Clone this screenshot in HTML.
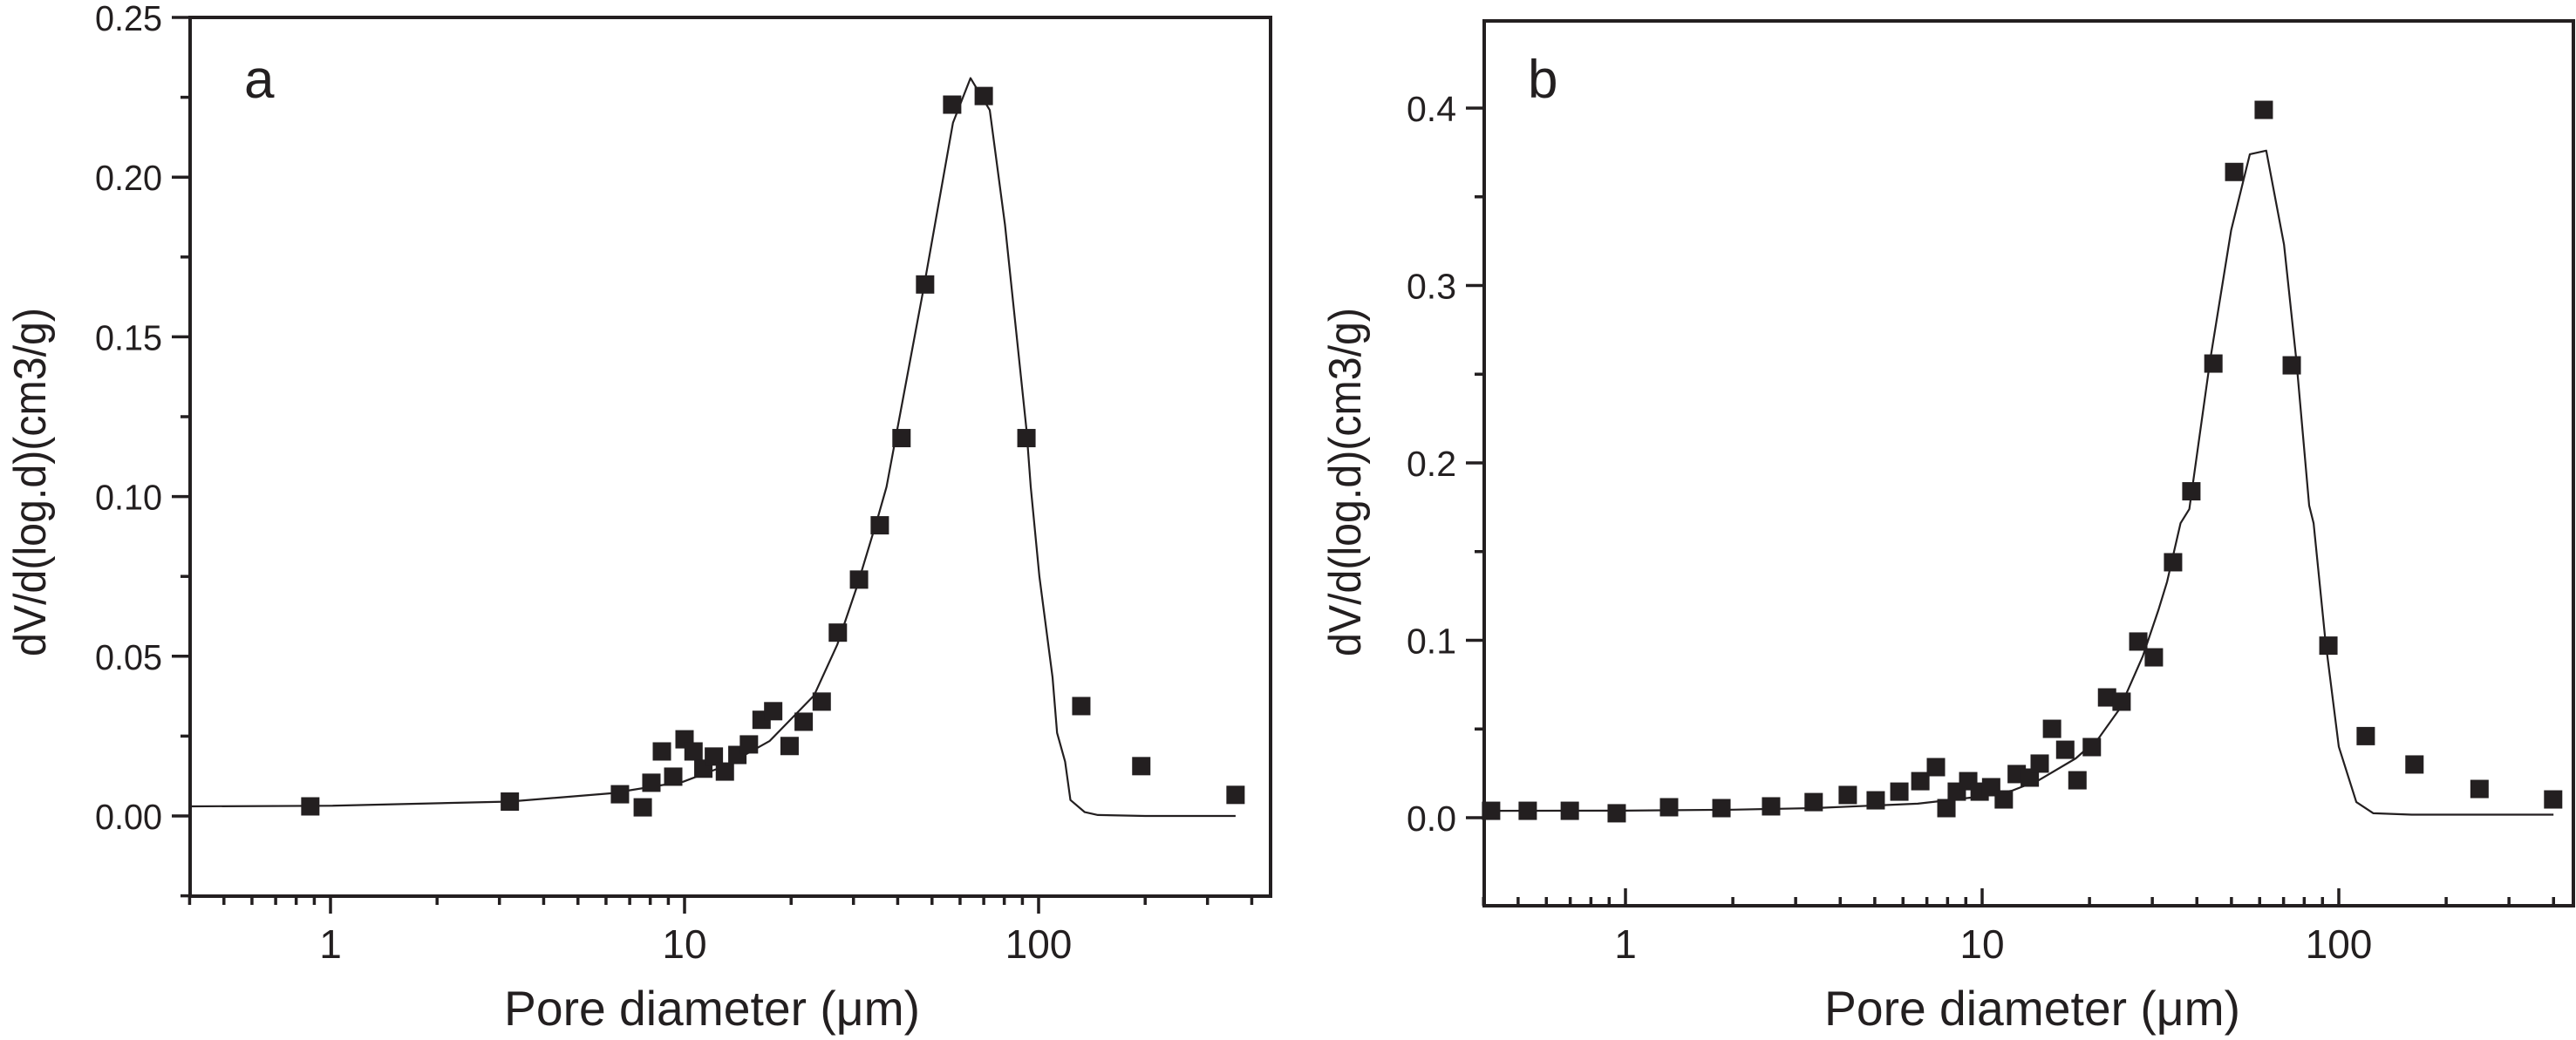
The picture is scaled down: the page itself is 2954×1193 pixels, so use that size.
<!DOCTYPE html>
<html><head><meta charset="utf-8">
<style>
html,body{margin:0;padding:0;background:#fff;}
svg{display:block;}
text{font-family:"Liberation Sans",Arial,sans-serif;fill:#231f20;}
</style></head>
<body>
<svg id="fig" width="2954" height="1193" viewBox="0 0 2954 1193" xmlns="http://www.w3.org/2000/svg">
</svg>
<script>
// ---- Panel a data ----
const aPointsX = [0.877,3.21,6.57,7.62,8.06,8.63,9.29,10.0,10.6,11.3,12.1,13.0,14.1,15.2,16.5,17.8,19.8,21.7,24.4,27.1,31.1,35.6,41.0,47.8,57.0,70.0,92.4,132,195,360];
const aPointsY = [0.003,0.0045,0.0068,0.0027,0.0104,0.0202,0.0123,0.024,0.0202,0.0148,0.0186,0.0139,0.0191,0.0224,0.0301,0.0328,0.0219,0.0295,0.0358,0.0574,0.074,0.091,0.1183,0.1664,0.2227,0.2254,0.1183,0.0344,0.0156,0.0066];
const aCurveX = [0.4,1,3.2,6.2,9.9,13.1,17.4,23.2,27.0,30.7,35.2,37.2,47.5,57.3,64.2,72.8,80.4,92.4,95.0,100.5,109.5,112.8,118.8,123,135,147,200,360];
const aCurveY = [0.003,0.0032,0.0045,0.0071,0.0107,0.0158,0.0235,0.0377,0.0536,0.0719,0.0937,0.103,0.166,0.217,0.231,0.221,0.185,0.121,0.103,0.075,0.0434,0.026,0.017,0.005,0.0012,0.0003,0,0];
const aYTicks = [0,0.05,0.10,0.15,0.20,0.25];
const aYTickLabels = ["0.00","0.05","0.10","0.15","0.20","0.25"];
// ---- Panel b data ----
const bPointsX = [0.420,0.532,0.698,0.945,1.325,1.858,2.56,3.37,4.20,5.03,5.86,6.71,7.42,7.94,8.49,9.14,9.84,10.6,11.5,12.5,13.6,14.5,15.7,17.1,18.5,20.3,22.4,24.6,27.4,30.3,34.3,38.6,44.5,50.9,61.6,73.8,93.5,119,163,248,399];
const bPointsY = [0.0039,0.0039,0.0039,0.0025,0.0059,0.0054,0.0064,0.0088,0.0128,0.0098,0.0147,0.0206,0.0285,0.0054,0.0147,0.0206,0.0147,0.0172,0.0103,0.0246,0.0226,0.0305,0.0501,0.0383,0.0211,0.0398,0.0678,0.0654,0.0993,0.0904,0.144,0.184,0.256,0.364,0.399,0.255,0.097,0.046,0.030,0.0162,0.0103];
const bCurveX = [0.4,1,2,3.37,6.6,9.3,12.1,14.4,18.3,21.2,24.3,28.2,31.2,33.0,36,38.1,43.6,49.9,56.3,62.6,70.2,76.0,82.6,85,91.7,100,112,125,160,400];
const bCurveY = [0.0039,0.004,0.0045,0.0054,0.0079,0.0113,0.0152,0.0211,0.0334,0.0447,0.0614,0.091,0.117,0.133,0.166,0.174,0.258,0.331,0.374,0.376,0.323,0.258,0.176,0.166,0.1,0.04,0.0088,0.0025,0.0017,0.0017];
const bYTicks = [0,0.1,0.2,0.3,0.4];
const bYTickLabels = ["0.0","0.1","0.2","0.3","0.4"];
const xTickLabels = ["1","10","100"];
const xTickValues = [1,10,100];

const NS = "http://www.w3.org/2000/svg";
const svg = document.getElementById('fig');
function mk(tag, attrs, parent){
  const e = document.createElementNS(NS, tag);
  for (const k in attrs) e.setAttribute(k, attrs[k]);
  (parent||svg).appendChild(e);
  return e;
}

function panel(cfg){
  const g = mk('g', {});
  
  
  const xs = d => cfg.x1 + cfg.dec * Math.log10(d);
  const ys = v => cfg.y0 - v * cfg.ppu;
  // frame
  const box = mk('rect', {x:cfg.L, y:cfg.T, width:cfg.R-cfg.L, height:cfg.B-cfg.T, fill:'none', stroke:'#231f20', 'stroke-width':4}, g);
  
  
  // y ticks
  cfg.yTicks.forEach((v,i)=>{
    const y = ys(v);
    const t = mk('line', {x1:cfg.L-21, x2:cfg.L, y1:y, y2:y, stroke:'#231f20','stroke-width':3.5}, g);
    
    
    const lb = mk('text', {x:cfg.L-32, y:y+15, 'text-anchor':'end', 'font-size':41, textLength:cfg.yLabW, lengthAdjust:'spacingAndGlyphs'}, g);
    lb.textContent = cfg.yTickLabels[i];
    
    
  });
  // y minor ticks
  for (let k=0;k<cfg.yTicks.length;k++){
    const v = cfg.yTicks[k] + cfg.yMinor;
    if (ys(v) < cfg.T) continue;
    const y = ys(v);
    const t = mk('line', {x1:cfg.L-11, x2:cfg.L, y1:y, y2:y, stroke:'#231f20','stroke-width':3.5}, g);
    
    
  }
  { const v = cfg.yTicks[0]-cfg.yMinor; if (ys(v) <= cfg.B) {
    const t = mk('line', {x1:cfg.L-11, x2:cfg.L, y1:ys(v), y2:ys(v), stroke:'#231f20','stroke-width':3.5}, g);
    
    
  }}
  // x ticks
  const sgn = cfg.xTickDir;
  for (let dec=-1; dec<=2; dec++){
    for (let m=1;m<10;m++){
      const d = m*Math.pow(10,dec);
      const x = xs(d);
      if (x < cfg.L-1 || x > cfg.R-5) continue;
      const len = m===1 ? 20 : 10;
      const t = mk('line', {x1:x, x2:x, y1:cfg.B, y2:cfg.B + sgn*len, stroke:'#231f20','stroke-width':3.5}, g);
      
      
    }
  }
  xTickValues.forEach((d,i)=>{
    const lb = mk('text', {x:xs(d), y:1099, 'text-anchor':'middle', 'font-size':46}, g);
    lb.textContent = xTickLabels[i];
    
    
  });
  // curve
  let p = '';
  cfg.cx.forEach((d,i)=>{ p += (i?'L':'M') + xs(d).toFixed(1) + ',' + ys(cfg.cy[i]).toFixed(1); });
  const c = mk('path', {d:p, fill:'none', stroke:'#231f20','stroke-width':2.2,'stroke-linejoin':'round'}, g);
  
  
  // points
  cfg.px.forEach((d,i)=>{
    const r = mk('rect', {x:xs(d)-10.5, y:ys(cfg.py[i])-10.5, width:21, height:21, fill:'#231f20'}, g);
    
    
  });
  // labels
  const pl = mk('text', {x:cfg.letterX, y:112, 'font-size':62}, g);
  pl.textContent = cfg.letter;
  
  
  const xt = mk('text', {x:cfg.xTitleX, y:1176, 'font-size':56, textLength:477, lengthAdjust:'spacingAndGlyphs'}, g);
  xt.textContent = 'Pore diameter (\u03bcm)';
  
  
  const yt = mk('text', {x:0, y:0, 'text-anchor':'middle', 'font-size':52, textLength:400, lengthAdjust:'spacingAndGlyphs', transform:'translate('+(cfg.yTitleX)+',553) rotate(-90)'}, g);
  yt.textContent = 'dV/d(log.d)(cm3/g)';
  
  
}

panel({name:'panel-a', L:218, R:1457, T:20, B:1028, x1:379, dec:406, y0:936, ppu:3664,
  yTicks:aYTicks, yTickLabels:aYTickLabels, yMinor:0.025, yLabW:77, xTickDir:1,
  cx:aCurveX, cy:aCurveY, px:aPointsX, py:aPointsY, letter:'a', letterX:280, xTitleX:578, yTitleX:52});
panel({name:'panel-b', L:1702, R:2951, T:24, B:1039, x1:1864, dec:409, y0:938, ppu:2035,
  yTicks:bYTicks, yTickLabels:bYTickLabels, yMinor:0.05, yLabW:57, xTickDir:-1,
  cx:bCurveX, cy:bCurveY, px:bPointsX, py:bPointsY, letter:'b', letterX:1752, xTitleX:2092, yTitleX:1560});
</script>
</body></html>
